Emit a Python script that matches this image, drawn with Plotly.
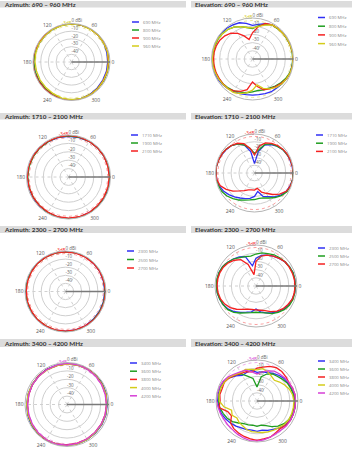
import plotly.graph_objects as go

W, H = 352, 450

# ---------------- data ----------------
AZ_THETA = [0, 15, 30, 45, 60, 75, 90, 105, 120, 135, 150, 165, 180, 195, 210, 225, 240, 255, 270, 285, 300, 315, 330, 345]
EL_THETA = [0, 10, 20, 30, 40, 50, 60, 70, 80, 90, 100, 110, 120, 130, 140, 150, 160, 170,
            180, 190, 200, 210, 220, 230, 240, 250, 260, 270, 280, 290, 300, 310, 320, 330, 340, 350]
ANG_TICKS = [0, 60, 120, 180, 240, 300]
ANG_LABELS = ["0", "60", "120", "180", "240", "300"]
RAD_TICKS = [0, -10, -20, -30, -40]
RAD_LABELS = ["0 dBi", "-10", "-20", "-30", "-40"]
THREE_DB = -3.0

TITLES = ["Azimuth: 690 – 960 MHz", "Elevation: 690 – 960 MHz",
          "Azimuth: 1710 – 2100 MHz", "Elevation: 1710 – 2100 MHz",
          "Azimuth: 2300 – 2700 MHz", "Elevation: 2300 – 2700 MHz",
          "Azimuth: 3400 – 4200 MHz", "Elevation: 3400 – 4200 MHz"]

BAND1 = ["690 MHz", "800 MHz", "900 MHz", "960 MHz"]
BAND2 = ["1710 MHz", "1900 MHz", "2100 MHz"]
BAND3 = ["2300 MHz", "2500 MHz", "2700 MHz"]
BAND4 = ["3400 MHz", "3600 MHz", "3800 MHz", "4000 MHz", "4200 MHz"]

# Azimuth 690-960
AZ1_690 = [-3.0, -2.5, -1.5, -1.0, -0.5, -0.5, -0.5, -0.5, -1.0, -1.5, -1.5, -1.5, -1.0, -1.0, -1.5, -1.5, -1.0, -0.5, -0.5, -1.0, -1.5, -2.5, -3.0, -3.0]
AZ1_800 = [-1.5, -1.5, -1.0, -0.5, -0.5, -0.5, -0.5, -0.5, -1.0, -1.0, -1.0, -1.0, -1.0, -1.0, -1.0, -1.5, -1.0, -0.5, -0.5, -0.5, -1.0, -1.5, -1.5, -1.5]
AZ1_900 = [-2.0, -1.5, -1.0, -1.0, -0.5, -0.5, 0.0, 0.0, -0.5, -0.5, -0.5, 0.0, 0.0, 0.0, -0.5, -0.5, -0.5, 0.0, 0.0, -0.5, -1.0, -1.5, -2.0, -2.0]
AZ1_960 = [-2.0, -1.5, -1.5, -1.0, -1.0, -0.5, -0.5, -1.0, -1.0, -1.5, -1.5, -2.0, -2.5, -3.0, -3.0, -3.0, -2.5, -1.5, -1.0, -1.0, -1.0, -1.5, -2.0, -2.0]

# Elevation 690-960
EL1_690 = [-0.5, -0.5, -0.5, -1, -1, -1.5, -2, -4, -7, -9, -6, -3, -2, -1, -0.5, -0.5, 0, 0,
           0, 0, -0.5, -1, -2, -3, -4, -5, -6, -6, -6, -5, -4, -4, -3, -2, -1, -1]
EL1_800 = [-1, -1, -1, -1.5, -1.5, -2, -2, -5, -9, -13, -11, -8, -5, -3, -2, -1.5, -1.5, -1.5,
           -1.5, -1.5, -2, -2.5, -3, -4, -5, -7, -8, -10, -11, -10, -9, -7, -5, -3, -1.5, -1]
EL1_900 = [-0.5, -0.5, -1, -1, -1.5, -1.5, -2, -4, -10, -18, -26, -20, -14, -9, -6, -4, -3, -2.5,
           -2.5, -2.5, -2.5, -3, -3, -3, -5, -8, -12, -22, -16, -10, -8, -6, -4, -2, -1, -0.5]
EL1_960 = [-0.5, -0.5, -1, -1, -1.5, -1.5, -2, -6, -10, -12, -11, -8, -5, -3, -2, -1, -1, -1,
           -1, -1, -1.5, -2, -2.5, -3, -3, -5, -8, -12, -18, -12, -8, -5, -3, -2, -1, -0.5]

# Azimuth 1710-2100
AZ2_1710 = [-0.5, -1, -1, -1, -1, -1.5, -1.5, -1.5, -1.5, -1, -1, -1, -1, -1, -1, -1, -1, -0.5, -0.5, -0.5, -1, -1, -0.5, -0.5]
AZ2_1900 = [-1, -1, -1, -1, -1, -1, -1, -1, -1.5, -1.5, -1.5, -1.5, -1.5, -1.5, -1.5, -1.5, -1, -0.5, -0.5, -0.5, -0.5, -1, -1, -1]
AZ2_2100 = [-1.5, -1.5, -1, -1, -1, -0.5, -0.5, -1, -1, -1, -1, -1, -1, -1.5, -1.5, -1.5, -1.5, -1, -1, -1, -1, -1.5, -1.5, -1.5]

# Elevation 1710-2100
EL2_1710 = [-0.5, -1, -1.5, -2, -3, -5, -8, -12, -22, -38, -22, -12, -7, -4, -3, -2, -1, -0.5,
            -0.5, -1, -2, -4, -7, -10, -13, -15, -17, -20, -26, -18, -15, -10, -6, -3, -1.5, -0.5]
EL2_1900 = [-0.5, -0.5, -1, -2, -3, -5, -7, -11, -20, -25, -18, -12, -7, -4, -2.5, -1.5, -1, -0.5,
            -0.5, -0.5, -1, -2, -4, -7, -10, -13, -15, -16, -17, -16, -13, -9, -5, -2, -1, -0.5]
EL2_2100 = [0, -0.5, -1, -1.5, -2.5, -4, -6, -9, -15, -27, -18, -10, -6, -4, -2.5, -1.5, -1, -0.5,
            -0.5, -1, -3, -8, -14, -20, -24, -27, -28, -28, -30, -24, -20, -14, -8, -3, -1, 0]

# Azimuth 2300-2700
AZ3_2300 = [-1.5, -1.5, -1, -1, -0.5, -0.5, -0.5, -0.5, -0.5, -0.5, -0.5, -0.5, -0.5, -0.5, -0.5, -0.5, -0.5, -0.5, -1, -1, -1, -1.5, -1.5, -1.5]
AZ3_2500 = [-1, -1, -0.5, -0.5, -0.5, -0.5, -1, -1, -1, -1, -1, -1, -1, -1, -1, -1, -1, -0.5, -0.5, -0.5, -0.5, -1, -1, -1]
AZ3_2700 = [-0.5, -1, -1, -1, -1, -1, -1, -1, -1, -1, -1.5, -1.5, -1.5, -1.5, -1.5, -1, -1, -1, -1, -1, -1, -0.5, -0.5, -0.5]

# Elevation 2300-2700
EL3_2300 = [-2, -2, -2, -3, -4, -6, -8, -10, -12, -16, -25, -12, -9, -7, -5, -3, -2, -2,
            -2, -2, -3, -4, -6, -9, -13, -16, -18, -22, -18, -15, -12, -9, -6, -4, -3, -2]
EL3_2500 = [-2, -2, -2, -3, -4, -5, -6, -8, -9, -11, -13, -12, -10, -7, -5, -3, -2, -1.5,
            -1.5, -2, -3, -4, -5, -8, -12, -15, -17, -18, -17, -15, -11, -8, -5, -3, -2, -2]
EL3_2700 = [-2.5, -2.5, -3, -3.5, -4, -6, -8, -10, -13, -20, -36, -22, -13, -9, -6, -4, -3, -2.5,
            -2.5, -3, -4, -6, -9, -13, -17, -20, -21, -21, -20, -18, -14, -10, -7, -5, -3, -2.5]

# Azimuth 3400-4200
AZ4_3400 = [-2, -1.5, -1, -1, -1.5, -1, -1, -1.5, -1.5, -2, -2, -2, -2, -1.5, -1, -1, -1, -1, -1.5, -1.5, -2, -2, -2, -2]
AZ4_3600 = [-2.5, -2, -1.5, -1, -1, -1.5, -1.5, -2, -2, -2, -2.5, -2.5, -2.5, -2, -1.5, -1, -1, -1, -1, -1.5, -2, -2.5, -2.5, -2.5]
AZ4_3800 = [-3, -2.5, -2, -1.5, -1, -1, -1.5, -2, -2, -2, -2.5, -3, -3, -2.5, -2, -1.5, -1, -1.5, -2, -2.5, -2.5, -3, -3, -3]
AZ4_4000 = [-2.5, -2, -2, -1.5, -1.5, -1.5, -2, -2, -2.5, -2.5, -2, -2, -2, -2, -2, -1.5, -1.5, -1, -1, -1.5, -2, -2.5, -2.5, -2.5]
AZ4_4200 = [-3, -3, -2.5, -2, -1.5, -1, -1, -1.5, -2, -2.5, -2.5, -3, -3, -3, -2.5, -2, -1.5, -1, -1.5, -2, -2.5, -3, -3, -3]

# Elevation 3400-4200
EL4_3400 = [-4, -4, -5, -6, -7, -9, -11, -13, -14, -15, -12, -13, -14, -10, -6, -3, -2, -2,
            -2, -3, -4, -6, -8, -10, -12, -13, -14, -13, -14, -12, -10, -7, -5, -3, -3, -3]
EL4_3600 = [-4, -5, -6, -7, -9, -11, -12, -15, -20, -33, -22, -18, -12, -8, -5, -4, -3, -3,
            -3, -4, -6, -8, -11, -15, -18, -19, -20, -19, -20, -18, -14, -10, -7, -5, -4, -4]
EL4_3800 = [-3, -3, -4, -5, -4, -3, -3, -5, -8, -10, -14, -12, -11, -9, -6, -4, -5, -4,
            -5, -3, -12, -14, -8, -6, -5, -4, -3, -2, -3, -3, -5, -6, -4, -3, -3, -3]
EL4_4000 = [-5, -6, -8, -11, -14, -17, -15, -12, -10, -12, -11, -9, -10, -8, -5, -4, -3, -3,
            -4, -9, -17, -15, -18, -16, -15, -13, -12, -12, -11, -10, -9, -8, -6, -5, -5, -5]
EL4_4200 = [-3, -3, -4, -5, -6, -7, -8, -11, -14, -17, -14, -10, -9, -7, -4, -2, -1, -0.5,
            -0.5, -2, -3, -4, -4, -4, -3, -2, -1, -1, -2, -3, -4, -4, -3, -3, -3, -3]

# ---------------- style ----------------
C_BLUE, C_GREEN, C_RED, C_YEL, C_MAG = "#2f2ff5", "#1f9e1f", "#f52020", "#d4cc1a", "#d63fd6"

panels = [
    dict(theta=AZ_THETA, series=[AZ1_690, AZ1_800, AZ1_900, AZ1_960], names=BAND1, cx=71.5, cy=62, r=38.5),
    dict(theta=EL_THETA, series=[EL1_690, EL1_800, EL1_900, EL1_960], names=BAND1, cx=252.5, cy=59, r=41),
    dict(theta=AZ_THETA, series=[AZ2_1710, AZ2_1900, AZ2_2100], names=BAND2, cx=68.5, cy=177, r=42),
    dict(theta=EL_THETA, series=[EL2_1710, EL2_1900, EL2_2100], names=BAND2, cx=254.5, cy=173, r=39),
    dict(theta=AZ_THETA, series=[AZ3_2300, AZ3_2500, AZ3_2700], names=BAND3, cx=65.5, cy=291.5, r=40.5),
    dict(theta=EL_THETA, series=[EL3_2300, EL3_2500, EL3_2700], names=BAND3, cx=256, cy=286, r=41),
    dict(theta=AZ_THETA, series=[AZ4_3400, AZ4_3600, AZ4_3800, AZ4_4000, AZ4_4200], names=BAND4, cx=67, cy=404.5, r=42),
    dict(theta=EL_THETA, series=[EL4_3400, EL4_3600, EL4_3800, EL4_4000, EL4_4200], names=BAND4, cx=257, cy=401, r=41),
]
COLORS = [C_BLUE, C_GREEN, C_RED, C_YEL, C_MAG]

# legend positions (px): line x0, first y, spacing
legend_pos = [(132, 22, 8), (318, 17.5, 8.7), (131, 135, 8), (316, 135, 8.2),
              (127, 251, 8.5), (318, 248, 8), (130, 363, 8.2), (318, 361, 8)]
bar_y = [(1, 7.5), (113, 119.5), (226, 233), (339, 347)]

fig = go.Figure()
shapes, annots = [], []

for i, p in enumerate(panels):
    pid = "polar" if i == 0 else f"polar{i+1}"
    th = p["theta"] + [360]
    ncol = len(p["series"])
    last_color = COLORS[ncol - 1]
    # -3 dB reference circle
    fig.add_trace(go.Scatterpolar(theta=th, r=[THREE_DB] * len(th), mode="lines",
                                  line=dict(color=last_color, width=0.7, dash="dot"), opacity=0.6,
                                  subplot=pid, showlegend=False, hoverinfo="skip"))
    for k, (vals, name) in enumerate(zip(p["series"], p["names"])):
        fig.add_trace(go.Scatterpolar(theta=th, r=vals + [vals[0]], mode="lines", name=name,
                                      line=dict(color=COLORS[k], width=1.3),
                                      subplot=pid, showlegend=False))
    # radial tick labels
    fig.add_trace(go.Scatterpolar(theta=[90] * len(RAD_TICKS), r=RAD_TICKS, mode="text",
                                  text=RAD_LABELS, textposition="top right",
                                  textfont=dict(size=4.5, color="#666", family="Open Sans"),
                                  subplot=pid, showlegend=False, hoverinfo="skip"))
    fig.add_trace(go.Scatterpolar(theta=[90], r=[THREE_DB], mode="text",
                                  text=["-3dB"], textposition="top left",
                                  textfont=dict(size=4.5, color=last_color, family="Open Sans"),
                                  subplot=pid, showlegend=False, hoverinfo="skip"))
    cx, cy, r = p["cx"], p["cy"], p["r"]
    fig.layout[pid] = dict(
        domain=dict(x=[(cx - r) / W, (cx + r) / W], y=[1 - (cy + r) / H, 1 - (cy - r) / H]),
        bgcolor="white",
        radialaxis=dict(range=[-50, 0], tickvals=RAD_TICKS, showticklabels=False, ticks="",
                        gridcolor="#cfcfcf", gridwidth=0.6, showline=True, linecolor="#7a7a7a",
                        linewidth=1.3, angle=0),
        angularaxis=dict(rotation=0, direction="counterclockwise", tickvals=ANG_TICKS,
                         ticktext=ANG_LABELS, ticks="", showline=True, linecolor="#b5b5b5",
                         linewidth=1, gridcolor="#d0d0d0", griddash="dot", gridwidth=0.6,
                         tickfont=dict(size=5, color="#555", family="Open Sans")),
    )
    # legend
    lx, ly, dy = legend_pos[i]
    for k, name in enumerate(p["names"]):
        y = ly + k * dy
        shapes.append(dict(type="line", xref="paper", yref="paper", x0=lx / W, x1=(lx + 7) / W,
                           y0=1 - y / H, y1=1 - y / H, line=dict(color=COLORS[k], width=1.5)))
        annots.append(dict(x=(lx + 8.5) / W, y=1 - y / H, xref="paper", yref="paper",
                           text=name, showarrow=False, xanchor="left", yanchor="middle",
                           font=dict(size=4.3, color="#888", family="Open Sans")))
    # title bar
    row, col = divmod(i, 2)
    y0, y1 = bar_y[row]
    bx0, bx1 = (0, 186) if col == 0 else (191, 352)
    shapes.append(dict(type="rect", xref="paper", yref="paper", x0=bx0 / W, x1=bx1 / W,
                       y0=1 - y1 / H, y1=1 - y0 / H, fillcolor="#dcdcdc", line=dict(width=0),
                       layer="below"))
    annots.append(dict(x=(bx0 + 1.5) / W, y=1 - ((y0 + y1) / 2) / H, xref="paper", yref="paper",
                       text=TITLES[i], showarrow=False, xanchor="left", yanchor="middle",
                       font=dict(size=6.3, color="#333", family="Lato", weight="bold")))

fig.update_layout(width=W, height=H, margin=dict(l=0, r=0, t=0, b=0),
                  paper_bgcolor="white", plot_bgcolor="white",
                  shapes=shapes, annotations=annots, showlegend=False)
fig.write_html("out.html")
